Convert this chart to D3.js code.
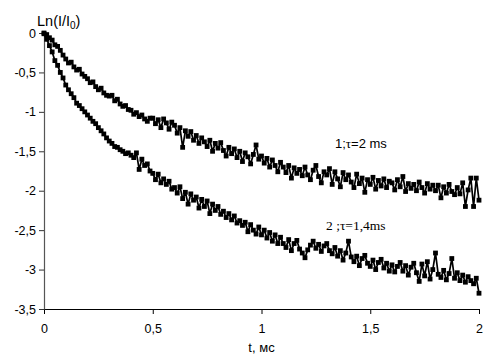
<!DOCTYPE html>
<html>
<head>
<meta charset="utf-8">
<script src="https://cdn.jsdelivr.net/npm/d3@7"></script>
<style>
  html, body { margin: 0; padding: 0; background: #fff; }
  svg { display: block; }
  text { font-family: "Liberation Sans", Arial, sans-serif; fill: #000; }
</style>
</head>
<body>
<svg id="chart" width="483" height="356"></svg>
<script>
// Sampling interval of the decay records, ms
const dt = 0.0125;

// Curve 1, tau = 2 ms: ln(I/I0) per sample
const series1 = [
  0.00, -0.02, -0.06, -0.09, -0.15, -0.17, -0.22, -0.28,
  -0.33, -0.38, -0.37, -0.43, -0.47, -0.46, -0.52, -0.55,
  -0.58, -0.63, -0.62, -0.68, -0.72, -0.70, -0.76, -0.79,
  -0.80, -0.79, -0.86, -0.84, -0.90, -0.93, -0.92, -0.97,
  -0.98, -1.03, -1.01, -1.06, -1.04, -1.09, -1.12, -1.08,
  -1.08, -1.15, -1.10, -1.20, -1.09, -1.14, -1.22, -1.13,
  -1.17, -1.27, -1.20, -1.45, -1.24, -1.31, -1.25, -1.36,
  -1.30, -1.40, -1.33, -1.38, -1.44, -1.36, -1.50, -1.40,
  -1.46, -1.39, -1.49, -1.56, -1.45, -1.53, -1.47, -1.58,
  -1.50, -1.63, -1.52, -1.57, -1.66, -1.54, -1.42, -1.60,
  -1.56, -1.65, -1.59, -1.70, -1.61, -1.68, -1.76, -1.64,
  -1.70, -1.77, -1.68, -1.84, -1.71, -1.78, -1.73, -1.81,
  -1.70, -1.80, -1.86, -1.74, -1.68, -1.82, -1.90, -1.76,
  -1.80, -1.72, -1.92, -1.76, -1.85, -1.95, -1.77, -1.86,
  -1.80, -1.89, -1.96, -1.79, -1.91, -1.84, -2.02, -1.86,
  -1.92, -1.83, -1.98, -1.87, -1.94, -1.85, -1.96, -1.88,
  -1.90, -1.99, -1.86, -1.95, -1.82, -2.01, -1.91, -1.97,
  -1.92, -2.00, -1.89, -1.96, -2.03, -1.91, -1.98, -1.93,
  -2.00, -1.93, -2.09, -1.95, -2.03, -1.92, -2.01, -2.05,
  -1.96, -2.04, -1.90, -2.20, -1.99, -1.84, -2.20, -1.84,
  -2.12
];

// Curve 2, tau = 1,4 ms: ln(I/I0) per sample
const series2 = [
  -0.01, -0.08, -0.16, -0.24, -0.35, -0.41, -0.50, -0.57,
  -0.66, -0.72, -0.77, -0.82, -0.89, -0.92, -0.96, -1.00,
  -1.04, -1.08, -1.12, -1.15, -1.20, -1.24, -1.28, -1.33,
  -1.37, -1.40, -1.44, -1.45, -1.48, -1.50, -1.53, -1.52,
  -1.55, -1.58, -1.52, -1.73, -1.60, -1.68, -1.66, -1.75,
  -1.78, -1.86, -1.79, -1.90, -1.85, -1.92, -1.88, -1.98,
  -1.96, -2.03, -1.95, -2.10, -2.02, -2.17, -2.04, -2.12,
  -2.08, -2.22, -2.11, -2.20, -2.13, -2.29, -2.17, -2.25,
  -2.20, -2.30, -2.26, -2.34, -2.29, -2.37, -2.32, -2.41,
  -2.38, -2.44, -2.40, -2.52, -2.43, -2.50, -2.55, -2.46,
  -2.56, -2.50, -2.60, -2.53, -2.64, -2.56, -2.67, -2.59,
  -2.67, -2.72, -2.62, -2.76, -2.67, -2.63, -2.74, -2.79,
  -2.85, -2.75, -2.69, -2.64, -2.73, -2.68, -2.77, -2.70,
  -2.67, -2.76, -2.80, -2.72, -2.83, -2.76, -2.88, -2.79,
  -2.64, -2.84, -2.90, -2.83, -2.95, -2.86, -2.82, -2.92,
  -2.96, -2.88, -3.00, -2.91, -2.87, -2.98, -2.92, -3.02,
  -2.94, -3.03, -2.96, -2.91, -3.02, -2.95, -3.07, -2.97,
  -2.92, -3.04, -3.15, -2.93, -3.08, -2.90, -3.12, -3.00,
  -2.79, -3.06, -3.10, -3.01, -3.13, -3.05, -2.86, -3.11,
  -3.04, -3.14, -3.07, -3.16, -3.09, -3.14, -3.18, -3.11,
  -3.30
];

// Axis ticks and their printed labels (decimal comma)
const xTicks = [0, 0.5, 1, 1.5, 2];
const xTickLabels = ["0", "0,5", "1", "1,5", "2"];
const yTicks = [0, -0.5, -1, -1.5, -2, -2.5, -3, -3.5];
const yTickLabels = ["0", "-0,5", "-1", "-1,5", "-2", "-2,5", "-3", "-3,5"];

const svg = d3.select("#chart");
const margin = { left: 44, right: 4, top: 33, bottom: 47 };
const W = 483, H = 356;
const serif = "'Liberation Serif', 'Times New Roman', serif";

const x = d3.scaleLinear().domain([0, 2]).range([margin.left, W - margin.right]);
const y = d3.scaleLinear().domain([-3.5, 0]).range([H - margin.bottom, margin.top]);

// X axis
const xAxis = d3.axisBottom(x)
  .tickValues(xTicks)
  .tickFormat((d, i) => xTickLabels[i])
  .tickSizeInner(5).tickSizeOuter(0);
const gx = svg.append("g")
  .attr("transform", `translate(0,${y(-3.5)})`)
  .call(xAxis);
gx.select(".domain").attr("stroke", "#000").attr("stroke-width", 1.2);
gx.selectAll(".tick line").attr("stroke", "#000");
gx.selectAll(".tick text")
  .attr("font-size", 12.5).attr("dy", "1.25em");

// Y axis
const yAxis = d3.axisLeft(y)
  .tickValues(yTicks)
  .tickFormat((d, i) => yTickLabels[i])
  .tickSizeInner(5).tickSizeOuter(0);
const gy = svg.append("g")
  .attr("transform", `translate(${x(0)},0)`)
  .call(yAxis);
gy.select(".domain").attr("stroke", "#555").attr("stroke-width", 1.2);
gy.selectAll(".tick line").attr("stroke", "#333");
gy.selectAll(".tick text")
  .attr("font-size", 12.5).attr("x", -8);

// Axis titles
const yTitle = svg.append("text")
  .attr("x", 37).attr("y", 26)
  .attr("font-size", 14.5);
yTitle.append("tspan").text("Ln(I/I");
yTitle.append("tspan").attr("font-size", 10).attr("dy", 3).text("0");
yTitle.append("tspan").attr("dy", -3).text(")");

svg.append("text")
  .attr("x", x(1)).attr("y", 352)
  .attr("text-anchor", "middle")
  .attr("font-size", 13)
  .text("t, мс");

// Curves with square markers
const line = d3.line()
  .x((d, i) => x(i * dt))
  .y(d => y(d));

[series1, series2].forEach(vals => {
  svg.append("path")
    .datum(vals)
    .attr("fill", "none")
    .attr("stroke", "#000")
    .attr("stroke-width", 1.7)
    .attr("stroke-linejoin", "round")
    .attr("d", line);
  const s = 4.8;
  svg.append("g")
    .selectAll("rect")
    .data(vals)
    .join("rect")
    .attr("x", (d, i) => x(i * dt) - s / 2)
    .attr("y", d => y(d) - s / 2)
    .attr("width", s).attr("height", s)
    .attr("fill", "#000");
});

// Curve annotations
const a1 = svg.append("text")
  .attr("x", 335).attr("y", 148)
  .attr("font-size", 13);
a1.append("tspan").text("1;");
a1.append("tspan").style("font-family", serif).text("τ");
a1.append("tspan").text("=2 ms");

svg.append("text")
  .attr("x", 326).attr("y", 230)
  .attr("font-size", 13.5)
  .style("font-family", serif)
  .text("2 ;τ=1,4ms");
</script>
</body>
</html>
